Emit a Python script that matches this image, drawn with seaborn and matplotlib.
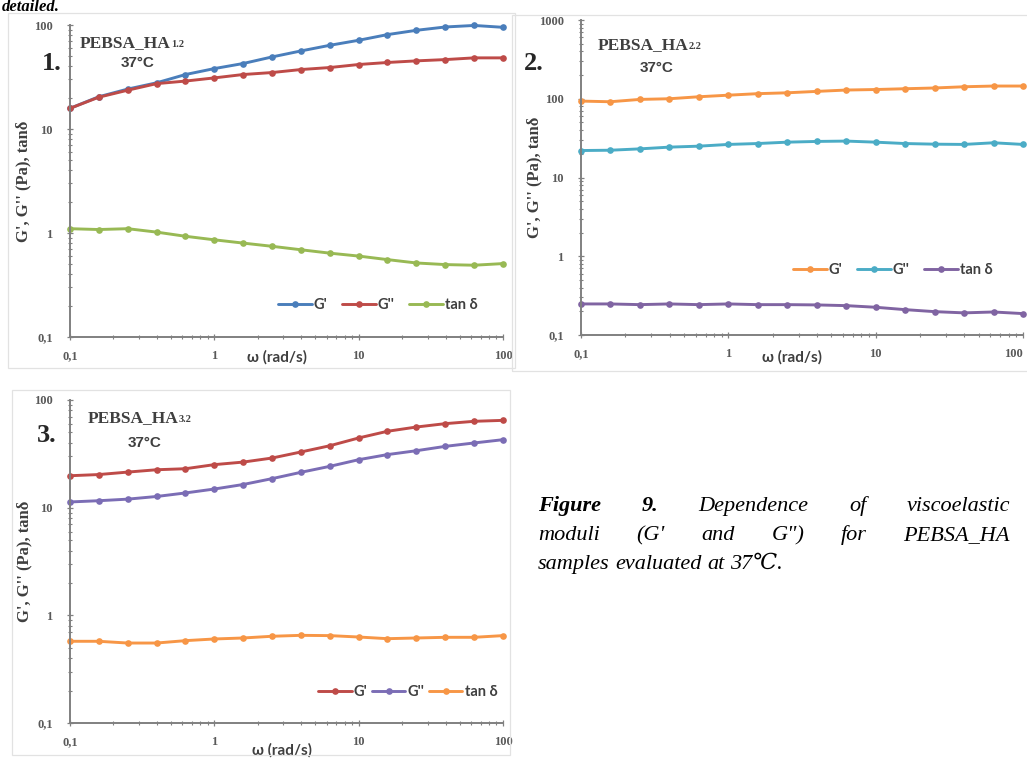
import matplotlib
matplotlib.use("Agg")
import matplotlib.pyplot as plt
import numpy as np
import pandas as pd
import seaborn as sns
from matplotlib.patches import Rectangle
from matplotlib.ticker import LogLocator, NullFormatter

# ---- data -------------------------------------------------------------
omega = [0.1, 0.158, 0.251, 0.398, 0.631, 1.0, 1.58, 2.51, 3.98, 6.31,
         10.0, 15.8, 25.1, 39.8, 63.1, 100.0]

# PEBSA_HA 1.2
ha1_gp = [15.8, 20.4, 24.2, 27.8, 33.4, 38.1, 42.6, 49.3, 56.3, 63.8,
          71.3, 80.8, 88.9, 95.7, 99.0, 95.0]
ha1_gpp = [15.8, 20.2, 23.6, 27.3, 28.9, 31.0, 33.4, 34.9, 37.3, 39.0,
           41.7, 43.6, 45.2, 46.5, 48.3, 48.3]
ha1_tan = [1.10, 1.08, 1.10, 1.02, 0.93, 0.86, 0.80, 0.745, 0.69, 0.64,
           0.60, 0.555, 0.515, 0.497, 0.490, 0.508]

# PEBSA_HA 2.2
ha2_gp = [93.4, 91.6, 98.1, 100, 106, 111, 116, 119, 124, 129,
          131, 134, 137, 142, 145, 145]
ha2_gpp = [22.0, 22.2, 23.1, 24.3, 25.0, 26.3, 27.0, 28.1, 28.7, 29.0,
           28.1, 27.0, 26.5, 26.3, 27.6, 26.3]
ha2_tan = [0.248, 0.248, 0.243, 0.248, 0.243, 0.248, 0.243, 0.243, 0.241, 0.236,
           0.225, 0.210, 0.198, 0.191, 0.196, 0.187]

# PEBSA_HA 3.2
ha3_gp = [19.8, 20.3, 21.4, 22.5, 23.0, 25.1, 26.5, 28.9, 32.9, 37.6,
          44.4, 51.2, 56.1, 60.3, 63.4, 64.7]
ha3_gpp = [11.3, 11.6, 12.0, 12.7, 13.7, 14.9, 16.4, 18.6, 21.3, 24.2,
           27.9, 31.1, 33.8, 37.1, 39.9, 42.8]
ha3_tan = [0.574, 0.574, 0.553, 0.553, 0.582, 0.603, 0.616, 0.639, 0.652, 0.648,
           0.629, 0.607, 0.616, 0.625, 0.625, 0.648]

series_names = ["G'", "G''", "tan δ"]
x_ticks = [0.1, 1, 10, 100]
x_ticklabels = ["0,1", "1", "10", "100"]

# ---- style ------------------------------------------------------------
sns.set_style("ticks")
plt.rcParams["font.family"] = ["Liberation Serif", "DejaVu Serif"]

W, H = 1027, 758
fig = plt.figure(figsize=(W / 100, H / 100), dpi=100)
fig.patch.set_facecolor("white")


def fx(x):
    return x / W


def fy(y):
    return 1 - y / H


SERIF = ["Liberation Serif", "DejaVu Serif"]
SANS = ["Lato", "DejaVu Sans"]
NARROW = ["Liberation Sans Narrow", "Liberation Sans", "DejaVu Sans"]
TXT = "#3f3f3f"
TICK = "#595959"

# faint chart-area borders
for (x0, y0, x1, y1) in [(8, 13, 515, 368), (512, 15, 1030, 371), (12, 390, 510, 755)]:
    fig.patches.append(Rectangle((fx(x0), fy(y1)), fx(x1 - x0), (y1 - y0) / H,
                                 transform=fig.transFigure, fill=False,
                                 edgecolor="#e2e2e2", linewidth=0.9))


def panel(box, values, colors, ylim, yticks, yticklabels, num, num_xy,
          name_xy, sub, temp_xy, leg_xy, xlab_x, xlab_y, ylab_x, colspace):
    x0, y0, x1, y1 = box
    ax = fig.add_axes([fx(x0), fy(y1), fx(x1 - x0), (y1 - y0) / H])
    df = pd.concat([pd.DataFrame({"omega": omega, "value": v, "series": s})
                    for s, v in zip(series_names, values)], ignore_index=True)
    sns.lineplot(data=df, x="omega", y="value", hue="series",
                 hue_order=series_names, palette=dict(zip(series_names, colors)),
                 marker="o", markersize=4.8, markeredgewidth=0, linewidth=2.1,
                 ax=ax, clip_on=False, legend=True)
    ax.set_xscale("log")
    ax.set_yscale("log")
    ax.set_xlim(0.1, 100)
    ax.set_ylim(*ylim)
    ax.set_xticks(x_ticks, x_ticklabels)
    ax.set_yticks(yticks, yticklabels)
    ax.xaxis.set_minor_locator(LogLocator(base=10, subs=np.arange(2, 10)))
    ax.yaxis.set_minor_locator(LogLocator(base=10, subs=np.arange(2, 10)))
    ax.xaxis.set_minor_formatter(NullFormatter())
    ax.yaxis.set_minor_formatter(NullFormatter())
    for s in ("top", "right"):
        ax.spines[s].set_visible(False)
    for s in ("left", "bottom"):
        ax.spines[s].set_color("#808080")
        ax.spines[s].set_linewidth(1.4)
    ax.tick_params(which="major", direction="inout", length=5, width=0.9,
                   color="#808080", labelcolor=TICK)
    ax.tick_params(axis="x", which="major", pad=7)
    ax.tick_params(axis="y", which="major", pad=10)
    ax.tick_params(which="minor", direction="inout", length=3.5, width=0.8,
                   color="#808080")
    for lab in ax.get_xticklabels() + ax.get_yticklabels():
        lab.set_fontfamily(SERIF)
        lab.set_fontweight("bold")
        lab.set_fontsize(9)
    ax.set_facecolor("white")

    ax.set_xlabel("ω (rad/s)", fontsize=11, color=TXT, family=SANS, fontweight="bold")
    ax.xaxis.set_label_coords(xlab_x, xlab_y)
    ax.set_ylabel("G', G'' (Pa), tanδ", fontsize=12, color=TXT, family=SERIF,
                  fontweight="bold")
    ax.yaxis.set_label_coords(ylab_x, 0.5)

    handles, labels = ax.get_legend_handles_labels()
    ax.legend(handles, labels, loc="center left", ncol=3, frameon=False,
              bbox_to_anchor=(fx(leg_xy[0]), fy(leg_xy[1])),
              bbox_transform=fig.transFigure, borderaxespad=0, borderpad=0,
              handlelength=2.3, handletextpad=0.15, columnspacing=colspace,
              prop={"family": SANS, "size": 10.5, "weight": "bold"},
              labelcolor=TXT)

    fig.text(fx(num_xy[0]), fy(num_xy[1]), num, ha="center", va="center",
             fontsize=19, fontweight="bold", family=SERIF, color="#262626")
    t = fig.text(fx(name_xy[0]), fy(name_xy[1]), "PEBSA_HA", ha="left",
                 va="center", fontsize=12.5, fontweight="bold", family=SERIF,
                 color=TXT)
    ax.annotate(sub, xy=(1.0, 0.12), xycoords=t, ha="left", va="bottom",
                fontsize=7.5, fontweight="bold", family=SERIF, color=TXT,
                annotation_clip=False)
    fig.text(fx(temp_xy[0]), fy(temp_xy[1]), "37°C", ha="center", va="center",
             fontsize=11, fontweight="bold", family=NARROW, color=TXT)
    return ax


panel((70, 25, 503, 337), [ha1_gp, ha1_gpp, ha1_tan],
      ["#4a7ebb", "#be4b48", "#98b954"], (0.1, 100),
      [0.1, 1, 10, 100], ["0,1", "1", "10", "100"],
      "1.", (52, 64), (80, 43), "1.2", (138, 63), (278, 305),
      0.478, -0.042, -0.09, 1.0)

ax2 = panel((581, 20, 1023, 335), [ha2_gp, ha2_gpp, ha2_tan],
            ["#f79646", "#4bacc6", "#8064a2"], (0.1, 1000),
            [0.1, 1, 10, 100, 1000], ["0,1", "1", "10", "100", "1000"],
            "2.", (534, 63), (598, 45), "2.2", (657, 68), (793, 270),
            0.477, -0.047, -0.088, 1.0)
# keep the last x label inside the figure's right edge
ax2.get_xticklabels()[-1].set_horizontalalignment("right")

panel((70, 400, 503, 723), [ha3_gp, ha3_gpp, ha3_tan],
      ["#be4b48", "#7b6db5", "#f79646"], (0.1, 100),
      [0.1, 1, 10, 100], ["0,1", "1", "10", "100"],
      "3.", (47, 435), (88, 418), "3.2", (145, 443), (318, 692),
      0.49, -0.062, -0.088, 0.3)

# ---- caption, justified between two edges ---------------------------------
renderer = fig.canvas.get_renderer()
CAP = dict(family=["Liberation Serif", "DejaVu Serif"], fontsize=16,
           style="italic", color="black", va="baseline")


def justified(words, left, right, base, justify=True):
    arts = []
    for w, bold in words:
        a = fig.text(0, fy(base), w, fontweight="bold" if bold else "normal", **CAP)
        arts.append(a)
    widths = [a.get_window_extent(renderer).width for a in arts]
    if justify and len(arts) > 1:
        gap = (right - left - sum(widths)) / (len(arts) - 1)
    else:
        gap = 5.5
    x = left
    for a, w in zip(arts, widths):
        a.set_x(fx(x))
        x += w + gap


justified([("Figure", True), ("9.", True), ("Dependence", False), ("of", False),
           ("viscoelastic", False)], 538, 1010, 511)
justified([("moduli", False), ("(G'", False), ("and", False), ('G")', False),
           ("for", False), ("PEBSA_HA", False)], 538, 1010, 540)
justified([("samples", False), ("evaluated", False), ("at", False),
           ("37℃.", False)], 538, 1010, 569, justify=False)

fig.text(0.002, fy(11), "detailed.", family=["Liberation Serif", "DejaVu Serif"],
         fontsize=12, style="italic", fontweight="bold", va="baseline", color="black")

fig.savefig("out.png", dpi=100, facecolor="white")
